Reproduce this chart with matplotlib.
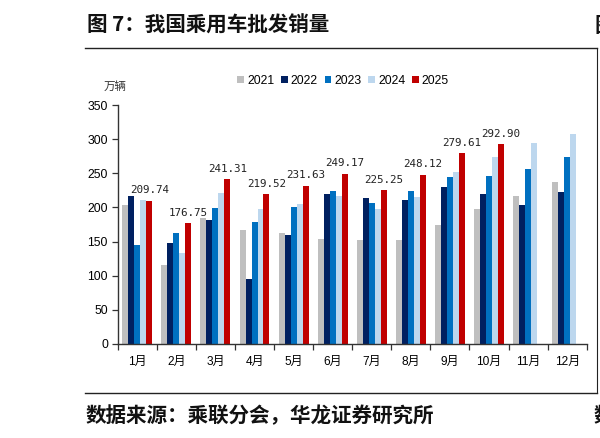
import matplotlib

matplotlib.use("Agg")
import matplotlib.pyplot as plt
from matplotlib.patches import Patch
from matplotlib.lines import Line2D
import numpy as np

plt.rcParams['font.family'] = ['Liberation Sans', 'Noto Sans CJK SC', 'DejaVu Sans']

months = ['1月', '2月', '3月', '4月', '5月', '6月', '7月', '8月', '9月', '10月', '11月', '12月']
years = ['2021', '2022', '2023', '2024', '2025']
sales_2021 = [203.2, 115.6, 184.6, 167.0, 162.1, 154.2, 152.3, 152.3, 174.3, 198.2, 216.4, 237.9]
sales_2022 = [216.4, 147.4, 182.1, 95.0, 159.6, 219.4, 214.0, 210.6, 230.1, 219.8, 203.2, 222.3]
sales_2023 = [144.5, 162.0, 198.8, 178.3, 200.7, 224.7, 207.0, 224.7, 245.2, 245.8, 256.1, 274.2]
sales_2024 = [210.6, 132.7, 221.3, 197.8, 205.6, 216.9, 198.2, 215.4, 252.1, 274.2, 294.7, 308.4]
sales_2025 = [209.74, 176.75, 241.31, 219.52, 231.63, 249.17, 225.25, 248.12, 279.61, 292.90]

series = [sales_2021, sales_2022, sales_2023, sales_2024, sales_2025]
colors = ['#BFBFBF', '#002060', '#0070C0', '#BDD7EE', '#C00000']

fig = plt.figure(figsize=(6.0, 4.38), dpi=100)
ax = fig.add_axes([0.1962, 0.2153, 0.7817, 0.5443])

w = 0.153
x = np.arange(len(months))
for i, (vals, c) in enumerate(zip(series, colors)):
    xs = x[:len(vals)] + (i - 2) * w
    ax.bar(xs, vals, width=w, color=c, linewidth=0, zorder=2)

# labels on the 2025 bars
for xi, v in zip(x, sales_2025):
    ax.annotate(f'{v:.2f}', (xi + 2 * w, v), xytext=(0, 4), textcoords='offset points',
                ha='center', va='bottom', fontsize=7.8, family='DejaVu Sans Mono', color='#222222')

ax.set_xlim(-0.5, 11.5)
ax.set_ylim(0, 350)
ax.set_yticks(range(0, 351, 50))
ax.set_xticks(x)
ax.set_xticklabels(months)
ax.set_xticks(np.arange(-0.5, 12, 1), minor=True)
ax.tick_params(axis='x', which='major', length=0, pad=9, labelsize=8.6)
ax.tick_params(axis='x', which='minor', length=4, width=0.9, direction='out', color='#333333')
ax.tick_params(axis='y', length=4, width=0.9, direction='out', pad=3, labelsize=8.8, color='#333333')
for s in ['top', 'right']:
    ax.spines[s].set_visible(False)
for s in ['left', 'bottom']:
    ax.spines[s].set_color('#333333')
    ax.spines[s].set_linewidth(1.0)

handles = [Patch(facecolor=c, edgecolor='none', label=y) for y, c in zip(years, colors)]
fig.legend(handles=handles, loc='center', bbox_to_anchor=(343 / 600, 1 - 81 / 438), ncol=5,
           frameon=False, fontsize=8.8, handlelength=0.55, handleheight=0.55,
           handletextpad=0.25, columnspacing=0.55, borderaxespad=0)

fig.text(115 / 600, 1 - 86.5 / 438, '万辆', ha='center', va='center', fontsize=8.3,
         family='Noto Sans CJK SC', color='#333333')

# page frame
fig.add_artist(Line2D([85 / 600, 597 / 600], [1 - 48.3 / 438, 1 - 48.3 / 438], color='#222222', lw=1.0))
fig.add_artist(Line2D([85 / 600, 597 / 600], [1 - 392.7 / 438, 1 - 392.7 / 438], color='#222222', lw=1.0))
fig.add_artist(Line2D([597 / 600, 597 / 600], [1 - 48.3 / 438, 1 - 392.7 / 438], color='#222222', lw=0.8))

fig.text(87 / 600, 1 - 25 / 438, '图 7：我国乘用车批发销量', ha='left', va='center',
         fontsize=14.8, fontweight='bold', family='Noto Sans CJK SC', color='#111111')
fig.text(86 / 600, 1 - 416 / 438, '数据来源：乘联分会，华龙证券研究所', ha='left', va='center',
         fontsize=14.8, fontweight='bold', family='Noto Sans CJK SC', color='#111111')
fig.text(594 / 600, 1 - 25 / 438, '图', ha='left', va='center',
         fontsize=14.8, fontweight='bold', family='Noto Sans CJK SC', color='#111111')
fig.text(594 / 600, 1 - 416 / 438, '数', ha='left', va='center',
         fontsize=14.8, fontweight='bold', family='Noto Sans CJK SC', color='#111111')

fig.savefig('out.png', dpi=100)
